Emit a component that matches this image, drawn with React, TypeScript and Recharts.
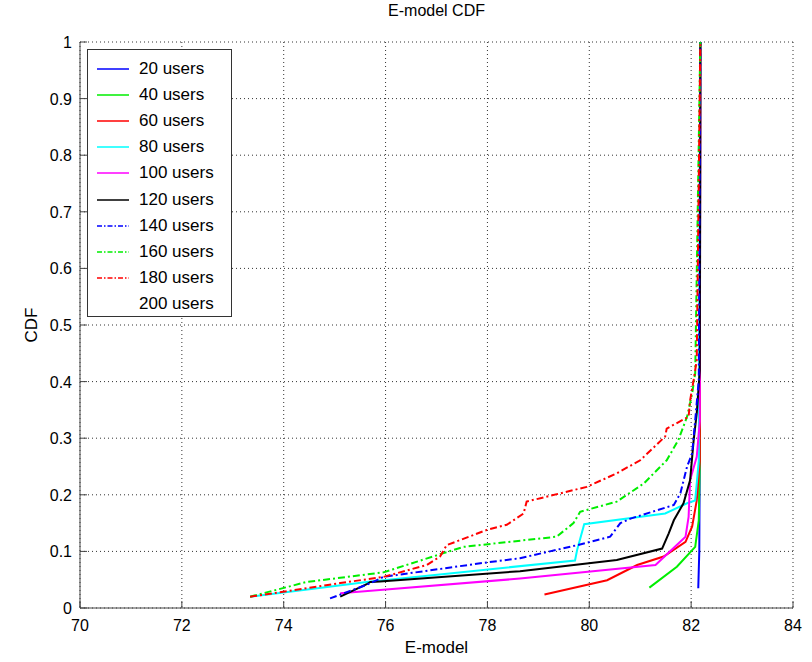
import { CartesianGrid, Line, LineChart, XAxis, YAxis } from 'recharts';

type Pt = [number, number];

// E-model value, CDF
const u20: Pt[] = [[82.14, 0.035], [82.16, 0.1], [82.17, 0.3], [82.18, 1]];
const u40: Pt[] = [[81.18, 0.036], [81.72, 0.073], [82.08, 0.108], [82.15, 0.155], [82.17, 0.26], [82.18, 1]];
const u60: Pt[] = [[79.12, 0.024], [80.35, 0.049], [80.94, 0.076], [81.46, 0.091], [81.89, 0.117], [82.02, 0.144], [82.11, 0.19], [82.17, 0.26], [82.18, 1]];
const u80: Pt[] = [[73.34, 0.02], [75.63, 0.046], [79.72, 0.084], [79.76, 0.102], [79.9, 0.148], [81.49, 0.167], [81.92, 0.185], [82.08, 0.19], [82.15, 0.26], [82.18, 1]];
const u100: Pt[] = [[75.11, 0.026], [75.89, 0.032], [78.64, 0.052], [81.3, 0.076], [81.89, 0.126], [81.95, 0.161], [81.98, 0.226], [82.11, 0.267], [82.17, 0.33], [82.18, 1]];
const u120: Pt[] = [[75.11, 0.02], [75.63, 0.042], [75.7, 0.046], [75.89, 0.047], [78.64, 0.065], [80.54, 0.085], [81.43, 0.105], [81.56, 0.132], [81.66, 0.155], [81.85, 0.185], [81.98, 0.226], [82.05, 0.297], [82.11, 0.344], [82.17, 0.42], [82.18, 1]];
const u140: Pt[] = [[74.91, 0.017], [75.63, 0.041], [75.96, 0.055], [77.86, 0.079], [78.64, 0.088], [79.76, 0.111], [80.41, 0.126], [80.61, 0.15], [80.81, 0.158], [81.66, 0.182], [81.79, 0.203], [81.92, 0.25], [82.02, 0.273], [82.08, 0.332], [82.15, 0.403], [82.18, 1]];
const u160: Pt[] = [[73.34, 0.02], [74.45, 0.046], [75.96, 0.063], [77.14, 0.097], [77.53, 0.108], [79.36, 0.126], [79.69, 0.15], [79.82, 0.17], [80.54, 0.188], [81.07, 0.22], [81.52, 0.261], [81.75, 0.297], [81.92, 0.338], [82.02, 0.379], [82.08, 0.415], [82.18, 1]];
const u180: Pt[] = [[73.34, 0.02], [75.11, 0.044], [75.96, 0.055], [76.81, 0.076], [77.07, 0.091], [77.2, 0.111], [77.99, 0.138], [78.38, 0.147], [78.71, 0.167], [78.77, 0.188], [79.04, 0.194], [79.95, 0.214], [80.54, 0.238], [81.0, 0.261], [81.49, 0.303], [81.52, 0.317], [81.95, 0.338], [81.98, 0.367], [82.05, 0.403], [82.11, 0.438], [82.18, 1]];
const u200: Pt[] = [[82.18, 0.45], [82.18, 1]];

const xTicks = [70, 72, 74, 76, 78, 80, 82, 84];
const yTicks = [0, 0.1, 0.2, 0.3, 0.4, 0.5, 0.6, 0.7, 0.8, 0.9, 1];

const DASHDOT = '7 3 2 3';

const series = [
  { name: '20 users', pts: u20, color: '#0000ff', dash: undefined },
  { name: '40 users', pts: u40, color: '#00ee00', dash: undefined },
  { name: '60 users', pts: u60, color: '#ff0000', dash: undefined },
  { name: '80 users', pts: u80, color: '#00ffff', dash: undefined },
  { name: '100 users', pts: u100, color: '#ff00ff', dash: undefined },
  { name: '120 users', pts: u120, color: '#000000', dash: undefined },
  { name: '140 users', pts: u140, color: '#0000ff', dash: DASHDOT },
  { name: '160 users', pts: u160, color: '#00ee00', dash: DASHDOT },
  { name: '180 users', pts: u180, color: '#ff0000', dash: DASHDOT },
  { name: '200 users', pts: u200, color: '#ffffff', dash: undefined },
];

const font = '"Liberation Sans", Arial, Helvetica, sans-serif';
const axisColor = '#444';

const BottomTick = ({ x, y, payload }: any) => (
  <g>
    <line x1={x} y1={y} x2={x} y2={y - 7} stroke={axisColor} />
    <text x={x} y={y + 23} textAnchor="middle" fontSize={16} fontFamily={font} fill="#000">{payload.value}</text>
  </g>
);
const LeftTick = ({ x, y, payload }: any) => (
  <g>
    <line x1={x} y1={y} x2={x + 7} y2={y} stroke={axisColor} />
    <text x={x - 8} y={y + 6} textAnchor="end" fontSize={16} fontFamily={font} fill="#000">{payload.value}</text>
  </g>
);
const TopTick = ({ x, y }: any) => <line x1={x} y1={y} x2={x} y2={y + 7} stroke={axisColor} />;
const RightTick = ({ x, y }: any) => <line x1={x} y1={y} x2={x - 7} y2={y} stroke={axisColor} />;

export default function App() {
  return (
    <div style={{ position: 'absolute', left: 0, top: 0, width: 812, height: 662, background: '#fff', fontFamily: font }}>
      <LineChart width={812} height={662} margin={{ top: 42, right: 19, bottom: 0, left: 0 }}>
        <CartesianGrid stroke="#333" strokeDasharray="1 3" />
        <XAxis type="number" dataKey="e" domain={[70, 84]} ticks={xTicks} height={54} tickSize={0} tickMargin={0}
          tick={<BottomTick />} tickLine={false} axisLine={{ stroke: axisColor }} allowDataOverflow />
        <YAxis type="number" dataKey="p" domain={[0, 1]} ticks={yTicks} width={80} tickSize={0} tickMargin={0}
          tick={<LeftTick />} tickLine={false} axisLine={{ stroke: axisColor }} allowDataOverflow />
        <XAxis xAxisId="top" orientation="top" type="number" domain={[70, 84]} ticks={xTicks} height={0} tickSize={0}
          tickMargin={0} tick={<TopTick />} tickLine={false} axisLine={{ stroke: axisColor }} />
        <YAxis yAxisId="right" orientation="right" type="number" domain={[0, 1]} ticks={yTicks} width={0} tickSize={0}
          tickMargin={0} tick={<RightTick />} tickLine={false} axisLine={{ stroke: axisColor }} />
        {[series[9], ...series.slice(0, 9)].map((s) => (
          <Line key={s.name} name={s.name} data={s.pts.map(([e, p]) => ({ e, p }))} dataKey="p" type="linear"
            stroke={s.color} strokeWidth={2} strokeDasharray={s.dash} dot={false} activeDot={false}
            isAnimationActive={false} />
        ))}
      </LineChart>

      <div style={{ position: 'absolute', left: 0, width: 873, top: 2, textAlign: 'center', fontSize: 16 }}>E-model CDF</div>
      <div style={{ position: 'absolute', left: 0, width: 873, top: 638, textAlign: 'center', fontSize: 17 }}>E-model</div>
      <div style={{ position: 'absolute', left: 32, top: 325, transform: 'translate(-50%, -50%) rotate(-90deg)', fontSize: 17 }}>CDF</div>

      <div style={{ position: 'absolute', left: 87, top: 49, width: 143, height: 266, border: '1px solid #333', background: '#fff' }}>
        {series.map((s, i) => (
          <div key={s.name} style={{ position: 'absolute', left: 0, top: 6 + i * 26.1, height: 26, width: 143 }}>
            <svg width={40} height={26} style={{ position: 'absolute', left: 9, top: 0 }}>
              <line x1={0} y1={13} x2={32} y2={13} stroke={s.color} strokeWidth={1.5} strokeDasharray={s.dash ? '5 2 1.5 2' : undefined} />
            </svg>
            <span style={{ position: 'absolute', left: 51, top: 3, fontSize: 17, lineHeight: '20px', whiteSpace: 'nowrap' }}>{s.name}</span>
          </div>
        ))}
      </div>
    </div>
  );
}
